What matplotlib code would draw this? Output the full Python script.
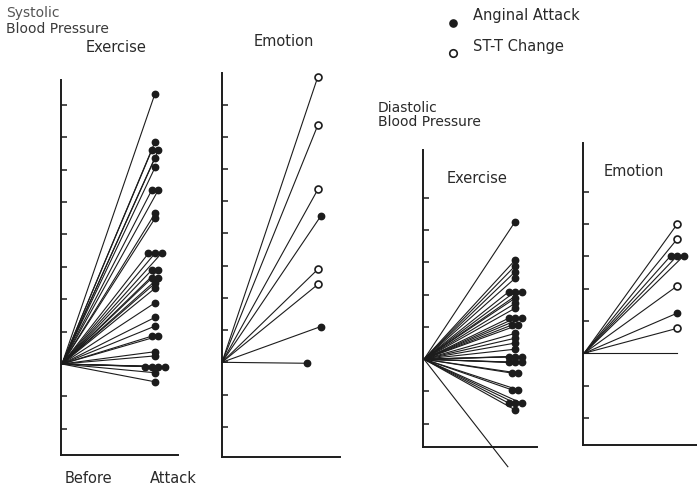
import matplotlib
matplotlib.use('agg')
import numpy as np
import matplotlib.pyplot as plt
from matplotlib.lines import Line2D

# changes in blood pressure (mmHg), before (x=0) -> attack (x=1)
sys_ex = [83.5, 68.6, 66.0, 66.0, 63.6, 60.7, 53.7, 53.7, 46.5, 45.0,
          34.2, 34.2, 34.2, 29.0, 29.0, 26.5, 26.5, 24.9, 23.4, 18.9,
          14.4, 11.7, 8.6, 8.6, 3.8, 2.5, -0.8, -0.8, -0.8, -0.8, -2.7, -5.5]

sys_em = [88.7, 73.7, 53.7, 45.4, 28.9, 24.2, 11.1, -0.3]
sys_em_x = [1.0, 1.0, 1.0, 1.03, 1.0, 1.0, 1.03, 0.89]
sys_em_kind = ['open', 'open', 'open', 'filled', 'open', 'open', 'filled', 'filled']

dia_ex = [42.6, 30.7, 28.9, 27.1, 25.1, 20.9, 20.9, 20.9, 18.9, 17.3, 15.8,
          12.7, 12.7, 12.7, 10.6, 10.6, 8.0, 6.5, 5.0, 3.1, 0.8, 0.8, 0.8,
          -1.0, -1.0, -1.0, -4.3, -4.3, -9.5, -9.5, -13.6, -13.6, -13.6, -15.7]
# one case running off the bottom of the panel (no marker)
dia_ex_off_x = [0.92]
dia_ex_off_y = [-33.3]

dia_em = [39.9, 35.3, 30.1, 30.1, 30.1, 20.8, 12.4, 7.7, 0.0]
dia_em_kind = ['open', 'open', 'filled', 'filled', 'filled', 'open', 'filled', 'open', 'none']

W, H = 697, 490
INK = '#1c1c1c'
TXT = '#2a2a2a'

fig = plt.figure(figsize=(W / 100, H / 100), dpi=100)
fig.patch.set_facecolor('white')


def box(l, t, r, b):
    return [l / W, 1 - b / H, (r - l) / W, (b - t) / H]


def panel(rect, xlim, ylim, ticks):
    ax = fig.add_axes(box(*rect))
    ax.set_xlim(*xlim)
    ax.set_ylim(*ylim)
    for s in ['top', 'right']:
        ax.spines[s].set_visible(False)
    for s in ['left', 'bottom']:
        ax.spines[s].set_linewidth(1.4)
        ax.spines[s].set_color(INK)
    ax.set_xticks([])
    ax.set_yticks(ticks)
    ax.set_yticklabels([])
    ax.set_yticks([0], minor=True)
    ax.tick_params(axis='y', which='major', direction='in', length=4.5, width=1.1, color=INK)
    ax.tick_params(axis='y', which='minor', direction='out', length=3.5, width=1.1, color=INK)
    ax.patch.set_alpha(0)
    return ax


def offsets(vals, step=0.07):
    # spread repeated values sideways like the original dot clusters
    out = []
    for i, v in enumerate(vals):
        n = vals.count(v)
        k = vals[:i].count(v)
        out.append((k - (n - 1) / 2) * step)
    return out


def draw(ax, xs, ys, kinds):
    for x, y, k in zip(xs, ys, kinds):
        ax.plot([0, x], [0, y], color=INK, lw=0.8, clip_on=False, zorder=2)
    for x, y, k in zip(xs, ys, kinds):
        if k == 'filled':
            ax.plot(x, y, 'o', ms=4.6, color=INK, mec=INK, clip_on=False, zorder=3)
        elif k == 'open':
            ax.plot(x, y, 'o', ms=5.0, mfc='white', mec=INK, mew=1.2, clip_on=False, zorder=3)


# systolic, exercise
ax1 = panel((61, 80, 178, 455), (-0.01, 1.247), (-28.1, 87.7), np.arange(-20, 81, 10))
dx = offsets(sys_ex)
draw(ax1, [1 + d for d in dx], sys_ex, ['filled'] * len(sys_ex))

# systolic, emotion
ax2 = panel((221.7, 73, 340, 456.7), (-0.003, 1.23), (-29.3, 89.8), np.arange(-20, 81, 10))
draw(ax2, sys_em_x, sys_em, sys_em_kind)

# diastolic, exercise
ax3 = panel((423.3, 150, 537, 446.7), (-0.008, 1.24), (-27.1, 64.8), np.arange(-20, 51, 10))
dx = offsets(dia_ex)
draw(ax3, [1 + d for d in dx], dia_ex, ['filled'] * len(dia_ex))
draw(ax3, dia_ex_off_x, dia_ex_off_y, ['none'])

# diastolic, emotion
ax4 = panel((583.3, 143.3, 697, 445), (-0.008, 1.215), (-28.4, 65.0), np.arange(-20, 51, 10))
dx = offsets(dia_em)
draw(ax4, [1 + d for d in dx], dia_em, dia_em_kind)


def label(x, y, s, ha='left', color=TXT, size=10.5):
    fig.text(x / W, 1 - y / H, s, ha=ha, va='baseline', color=color, fontsize=size)


label(6, 17.5, 'Systolic', color='#555555', size=10)
label(6, 33, 'Blood Pressure', color='#3a3a3a', size=10)
label(116, 51.5, 'Exercise', ha='center')
label(284, 46.5, 'Emotion', ha='center')
label(378, 111.5, 'Diastolic', size=10)
label(378, 126.5, 'Blood Pressure', size=10)
label(477, 183, 'Exercise', ha='center')
label(634, 176.5, 'Emotion', ha='center')
label(88, 483, 'Before', ha='center')
label(173, 483, 'Attack', ha='center')

label(473, 20, 'Anginal Attack')
label(473, 51.5, 'ST-T Change')
fig.add_artist(Line2D([453 / W], [1 - 23 / H], marker='o', ms=5.2, color=INK,
                      transform=fig.transFigure))
fig.add_artist(Line2D([453 / W], [1 - 53 / H], marker='o', ms=5.4, mfc='white',
                      mec=INK, mew=1.2, transform=fig.transFigure))

fig.savefig('out.png', dpi=100, facecolor='white')
